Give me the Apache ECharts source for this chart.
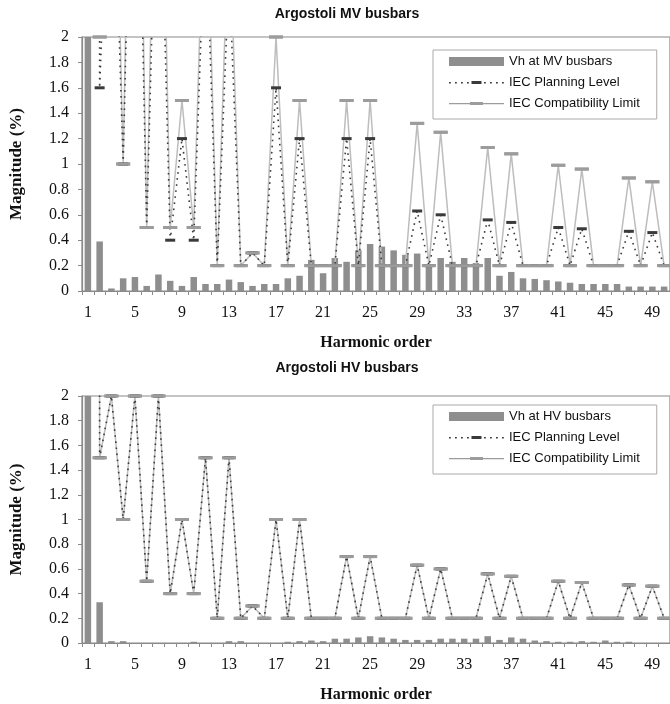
<!DOCTYPE html>
<html><head><meta charset="utf-8">
<script src="https://cdn.jsdelivr.net/npm/echarts@6/dist/echarts.min.js"></script>
<style>html,body{margin:0;padding:0;background:#fff}#c{width:670px;height:704px}</style>
</head><body><div id="c"></div>
<script>
// Harmonic orders (categories)
const harmonics = ['1','2','3','4','5','6','7','8','9','10','11','12','13','14','15','16','17','18','19','20',
  '21','22','23','24','25','26','27','28','29','30','31','32','33','34','35','36','37','38','39','40',
  '41','42','43','44','45','46','47','48','49','50'];
const yTicks = { min: 0, max: 2, step: 0.2 };

// MV busbars (%)
const mvVh = [100, 0.39, 0.02, 0.10, 0.11, 0.04, 0.13, 0.08, 0.04, 0.11,
  0.055, 0.055, 0.09, 0.07, 0.04, 0.055, 0.055, 0.10, 0.12, 0.245,
  0.14, 0.26, 0.23, 0.32, 0.37, 0.35, 0.32, 0.285, 0.295, 0.205,
  0.26, 0.23, 0.26, 0.22, 0.26, 0.12, 0.15, 0.10, 0.095, 0.085,
  0.075, 0.065, 0.055, 0.055, 0.055, 0.055, 0.035, 0.035, 0.035, 0.035];
const mvPlanning = [100, 1.6, 4, 1.0, 5, 0.5, 4, 0.4, 1.2, 0.4,
  3, 0.2, 2.5, 0.2, 0.3, 0.2, 1.6, 0.2, 1.2, 0.2,
  0.2, 0.2, 1.2, 0.2, 1.2, 0.2, 0.2, 0.2, 0.63, 0.2,
  0.6, 0.2, 0.2, 0.2, 0.56, 0.2, 0.54, 0.2, 0.2, 0.2,
  0.5, 0.2, 0.49, 0.2, 0.2, 0.2, 0.47, 0.2, 0.46, 0.2];
const mvCompat = [100, 2.0, 5, 1.0, 6, 0.5, 5, 0.5, 1.5, 0.5,
  3.5, 0.2, 3, 0.2, 0.3, 0.2, 2.0, 0.2, 1.5, 0.2,
  0.2, 0.2, 1.5, 0.2, 1.5, 0.2, 0.2, 0.2, 1.32, 0.2,
  1.25, 0.2, 0.2, 0.2, 1.13, 0.2, 1.08, 0.2, 0.2, 0.2,
  0.99, 0.2, 0.96, 0.2, 0.2, 0.2, 0.89, 0.2, 0.86, 0.2];

// HV busbars (%)
const hvVh = [100, 0.33, 0.015, 0.015, 0, 0, 0, 0, 0, 0.01,
  0, 0, 0.015, 0.015, 0, 0, 0, 0.01, 0.015, 0.02,
  0.015, 0.035, 0.035, 0.045, 0.055, 0.045, 0.035, 0.025, 0.025, 0.025,
  0.035, 0.035, 0.035, 0.035, 0.055, 0.025, 0.045, 0.035, 0.02, 0.015,
  0.01, 0.01, 0.015, 0.01, 0.02, 0.01, 0.01, 0, 0, 0];
const hvPlanning = [100, 1.5, 2.0, 1.0, 2.0, 0.5, 2.0, 0.4, 1.0, 0.4,
  1.5, 0.2, 1.5, 0.2, 0.3, 0.2, 1.0, 0.2, 1.0, 0.2,
  0.2, 0.2, 0.7, 0.2, 0.7, 0.2, 0.2, 0.2, 0.63, 0.2,
  0.6, 0.2, 0.2, 0.2, 0.56, 0.2, 0.54, 0.2, 0.2, 0.2,
  0.5, 0.2, 0.49, 0.2, 0.2, 0.2, 0.47, 0.2, 0.46, 0.2];
const hvCompat = [100, 1.5, 2.0, 1.0, 2.0, 0.5, 2.0, 0.4, 1.0, 0.4,
  1.5, 0.2, 1.5, 0.2, 0.3, 0.2, 1.0, 0.2, 1.0, 0.2,
  0.2, 0.2, 0.7, 0.2, 0.7, 0.2, 0.2, 0.2, 0.63, 0.2,
  0.6, 0.2, 0.2, 0.2, 0.56, 0.2, 0.54, 0.2, 0.2, 0.2,
  0.5, 0.2, 0.49, 0.2, 0.2, 0.2, 0.47, 0.2, 0.46, 0.2];

const titles = ['Argostoli MV busbars', 'Argostoli HV busbars'];
const barNames = ['Vh at MV busbars', 'Vh at HV busbars'];
const planName = 'IEC Planning Level';
const compName = 'IEC Compatibility Limit';
const xName = 'Harmonic order';
const yName = 'Magnitude (%)';

const SERIF = "'Liberation Serif','Times New Roman',serif";
const SANS = "'Liberation Sans',Arial,sans-serif";
const BAR = '#8e8e8e', COMP_LINE = '#bdbdbd', COMP_MARK = '#9c9c9c', PLAN = '#3a3a3a';

// legend icons (line + dash marker), drawn in a 55 x 9 box
const PLAN_ICON = 'path://M0,4h1.8v1.6h-1.8z M6,4h1.8v1.6h-1.8z M12,4h1.8v1.6h-1.8z M18,4h1.8v1.6h-1.8z M22.5,3h10v3h-10z M35,4h1.8v1.6h-1.8z M41,4h1.8v1.6h-1.8z M47,4h1.8v1.6h-1.8z M53,4h1.8v1.6h-1.8z M0,0h0.01v9h-0.01z M54.99,0h0.01v9h-0.01z';
const COMP_ICON = 'path://M0,4h55v1.2h-55z M21,3h13v3h-13z M0,0h0.01v9h-0.01z';

const grids = [
  { left: 76, top: 37, width: 600, height: 254, show: true, borderColor: '#8a8a8a', borderWidth: 1.2 },
  { left: 76, top: 396, width: 600, height: 249, show: true, borderColor: '#8a8a8a', borderWidth: 1.2 }
];

function xAxis(i) {
  return {
    gridIndex: i, type: 'category', data: harmonics, boundaryGap: true,
    name: xName, nameLocation: 'middle', nameGap: 44,
    nameTextStyle: { fontFamily: SERIF, fontWeight: 'bold', fontSize: 16, color: '#111' },
    axisLine: { lineStyle: { color: '#8a8a8a', width: 1.2 } },
    axisTick: { show: true, interval: 0, length: 4, lineStyle: { color: '#8a8a8a' } },
    axisLabel: { interval: 3, fontFamily: SERIF, fontSize: 16, color: '#111', margin: 14 },
    splitLine: { show: false }
  };
}
function yAxis(i) {
  return {
    gridIndex: i, type: 'value', min: yTicks.min, max: yTicks.max, interval: yTicks.step,
    name: yName, nameLocation: 'middle', nameGap: 57,
    nameTextStyle: { fontFamily: SERIF, fontWeight: 'bold', fontSize: 17, color: '#111' },
    axisLine: { show: true, lineStyle: { color: '#8a8a8a', width: 1.2 } },
    axisTick: { show: true, length: 4, lineStyle: { color: '#8a8a8a' } },
    axisLabel: { fontFamily: SERIF, fontSize: 16, color: '#111', margin: 13 },
    splitLine: { show: false }
  };
}
function seriesFor(i, vh, plan, comp) {
  return [
    { name: barNames[i], type: 'bar', xAxisIndex: i, yAxisIndex: i, data: vh, barWidth: 6.5,
      itemStyle: { color: BAR }, clip: true, z: 1, animation: false },
    { name: compName, type: 'line', xAxisIndex: i, yAxisIndex: i, data: comp, clip: true, z: 2,
      symbol: 'rect', symbolSize: [14, 3], showAllSymbol: true,
      lineStyle: { color: COMP_LINE, width: 1.5 }, itemStyle: { color: COMP_MARK, borderWidth: 0 }, animation: false },
    { name: planName, type: 'line', xAxisIndex: i, yAxisIndex: i, data: plan, clip: true, z: 3,
      symbol: 'rect', symbolSize: [10, 3], showAllSymbol: true,
      lineStyle: { color: PLAN, width: 1.6, type: [1.6, 4.5] }, itemStyle: { color: PLAN, borderWidth: 0 }, animation: false },
    { name: 'comp-marks-' + i, type: 'line', xAxisIndex: i, yAxisIndex: i, data: comp, clip: true, z: 4,
      symbol: 'rect', symbolSize: [14, 3], showAllSymbol: true, silent: true,
      lineStyle: { width: 0, opacity: 0 }, itemStyle: { color: COMP_MARK, borderWidth: 0 }, animation: false }
  ];
}
function legend(i, top) {
  return {
    data: [
      { name: barNames[i], icon: 'rect', itemStyle: { color: BAR, borderWidth: 0 } },
      { name: planName, icon: PLAN_ICON, itemStyle: { color: PLAN, borderWidth: 0 } },
      { name: compName, icon: COMP_ICON, itemStyle: { color: COMP_MARK, borderWidth: 0 } }
    ],
    orient: 'vertical', left: 433, top: top,
    itemWidth: 55, itemHeight: 9, itemGap: 8, padding: [5, 17, 9, 16],
    borderColor: '#aaaaaa', borderWidth: 1, selectedMode: false,
    textStyle: { fontFamily: SANS, fontSize: 13, color: '#111' }
  };
}

const chart = echarts.init(document.getElementById('c'), null, { renderer: 'canvas' });
chart.setOption({
  animation: false,
  backgroundColor: '#fff',
  grid: grids,
  xAxis: [xAxis(0), xAxis(1)],
  yAxis: [yAxis(0), yAxis(1)],
  legend: [legend(0, 50), legend(1, 405)],
  series: [].concat(seriesFor(0, mvVh, mvPlanning, mvCompat), seriesFor(1, hvVh, hvPlanning, hvCompat)),
  graphic: [
    { type: 'text', x: 347, y: 14, style: { text: titles[0], fontFamily: SANS, fontWeight: 'bold', fontSize: 14, fill: '#111', textAlign: 'center', textVerticalAlign: 'middle' } },
    { type: 'text', x: 347, y: 368, style: { text: titles[1], fontFamily: SANS, fontWeight: 'bold', fontSize: 14, fill: '#111', textAlign: 'center', textVerticalAlign: 'middle' } }
  ]
});
</script>
</body></html>
